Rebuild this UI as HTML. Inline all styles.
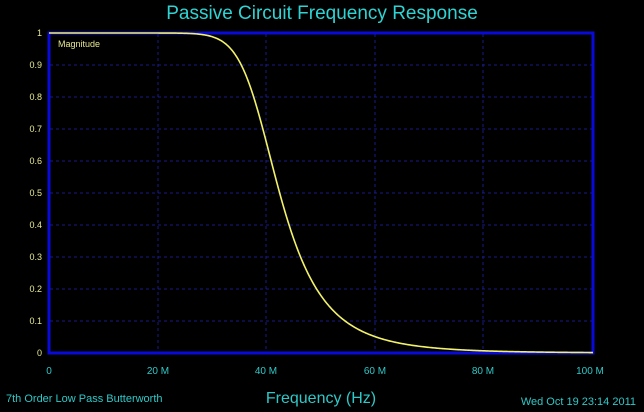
<!DOCTYPE html>
<html><head><meta charset="utf-8"><style>
html,body{margin:0;padding:0;background:#000;}
body{width:644px;height:412px;overflow:hidden;}
text{font-family:"Liberation Sans",sans-serif;}
</style></head><body>
<svg width="644" height="412" xmlns="http://www.w3.org/2000/svg" style="display:block">
<rect width="644" height="412" fill="#000"/>
<text x="322" y="19" fill="#2fd3d3" font-size="19" text-anchor="middle">Passive Circuit Frequency Response</text>
<g stroke="#1a1a8a" stroke-width="1" stroke-dasharray="3,3">
<line x1="158" y1="34" x2="158" y2="352"/><line x1="266" y1="34" x2="266" y2="352"/>
<line x1="375" y1="34" x2="375" y2="352"/><line x1="483" y1="34" x2="483" y2="352"/>
<line x1="50" y1="65" x2="592" y2="65"/><line x1="50" y1="97" x2="592" y2="97"/>
<line x1="50" y1="129" x2="592" y2="129"/><line x1="50" y1="161" x2="592" y2="161"/>
<line x1="50" y1="193" x2="592" y2="193"/><line x1="50" y1="225" x2="592" y2="225"/>
<line x1="50" y1="257" x2="592" y2="257"/><line x1="50" y1="289" x2="592" y2="289"/>
<line x1="50" y1="321" x2="592" y2="321"/>
</g>
<rect x="49" y="33" width="544" height="320" fill="none" stroke="#0a0ad8" stroke-width="3"/>
<path id="c" fill="none" stroke="#f2f26a" stroke-width="1.6"/>
<text x="58" y="47" fill="#e8e890" font-size="9">Magnitude</text>
<g fill="#e8e890" font-size="9" text-anchor="end">
<text x="42" y="36">1</text><text x="42" y="68">0.9</text><text x="42" y="100">0.8</text>
<text x="42" y="132">0.7</text><text x="42" y="164">0.6</text><text x="42" y="196">0.5</text>
<text x="42" y="228">0.4</text><text x="42" y="260">0.3</text><text x="42" y="292">0.2</text>
<text x="42" y="324">0.1</text><text x="42" y="356">0</text>
</g>
<g fill="#2fc8c8" font-size="10" text-anchor="middle">
<text x="49" y="374">0</text><text x="158" y="374">20 M</text><text x="266" y="374">40 M</text>
<text x="375" y="374">60 M</text><text x="483" y="374">80 M</text><text x="590" y="374">100 M</text>
</g>
<text x="321" y="403" fill="#2fc8c8" font-size="16" text-anchor="middle">Frequency (Hz)</text>
<text x="6" y="402" fill="#2fc8c8" font-size="11">7th Order Low Pass Butterworth</text>
<text x="636" y="405" fill="#2fc8c8" font-size="11" text-anchor="end">Wed Oct 19 23:14 2011</text>
</svg>
<script>
var d="";for(var i=0;i<=544;i++){var f=i/544*100;var m=1/Math.sqrt(1+Math.pow(f/39.2,14));var y=33+(1-m)*320;d+=(i?"L":"M")+(49+i)+","+y.toFixed(2);}
document.getElementById("c").setAttribute("d",d);
</script>
</body></html>
